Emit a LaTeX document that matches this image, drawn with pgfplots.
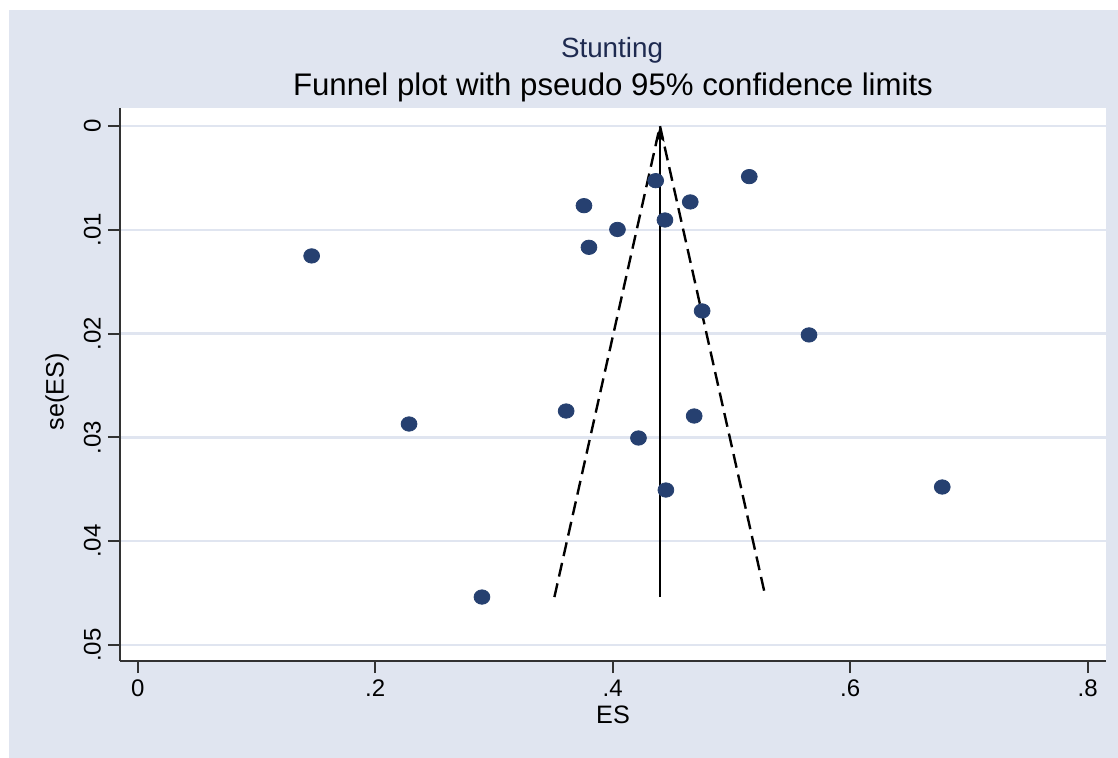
\documentclass[border=0pt]{standalone}
\usepackage{fontspec}
\setmainfont{Liberation Sans}
\usepackage{pgfplots}
\pgfplotsset{compat=1.18}
\usetikzlibrary{arrows.meta}

\definecolor{bgcol}{RGB}{224,229,240}
\definecolor{gridcol}{RGB}{224,229,240}
\definecolor{dotcol}{RGB}{38,64,112}
\definecolor{axcol}{RGB}{50,50,50}
\definecolor{subcol}{RGB}{30,42,80}

\begin{document}
\begin{tikzpicture}[x=1pt,y=1pt]
% background (1px = 0.5pt)
\fill[bgcol] (-55.5,-49) rectangle (499.5,325.5);

\begin{axis}[
  at={(0,0)}, anchor=south west,
  scale only axis,
  width=493pt, height=276.5pt,
  xmin=-0.0149, xmax=0.8154,
  ymin=-0.00173, ymax=0.05154,
  y dir=reverse,
  axis lines*=left,
  axis line style={axcol, line width=1pt},
  axis background/.style={fill=white},
  xtick={0,0.2,0.4,0.6,0.8},
  xticklabels={0,.2,.4,.6,.8},
  ytick={0,0.01,0.02,0.03,0.04,0.05},
  yticklabels={0,.01,.02,.03,.04,.05},
  scaled y ticks=false,
  scaled x ticks=false,
  tick align=outside,
  major tick length=6pt,
  tick style={axcol, line width=1pt},
  ymajorgrids,
  grid style={gridcol, line width=1.2pt},
  tick label style={font=\fontsize{12}{14}\selectfont},
  yticklabel style={rotate=90, anchor=south},
  clip=false,
]
\addplot[only marks, mark=*, mark size=3.6pt, mark options={draw=dotcol, fill=dotcol, xscale=1.1}]
coordinates {
  (0.1465,0.01252) (0.2285,0.02871) (0.2899,0.04538) (0.3608,0.02746)
  (0.3758,0.00768) (0.3800,0.01169) (0.4040,0.00997) (0.4217,0.03006)
  (0.4362,0.00527) (0.4440,0.00906) (0.4448,0.03507) (0.4653,0.00732)
  (0.4686,0.02794) (0.4753,0.01782) (0.5150,0.00488) (0.5653,0.02013)
  (0.6775,0.03478)
};
% pseudo 95% limits
\addplot[black, line width=1.2pt, dash pattern=on 7pt off 3.5pt]
coordinates {(0.3509,0.04538) (0.4398,0) (0.5287,0.04538)};
% pooled estimate
\addplot[black, line width=1.2pt, -{Stealth[length=8pt,width=4.5pt,inset=2pt]}]
coordinates {(0.4398,0.04538) (0.4398,0)};
\end{axis}

\node[font=\fontsize{13.9}{16}\selectfont, text=subcol] at (246,305.5) {Stunting};
\node[font=\fontsize{15.6}{18}\selectfont] at (246.5,287) {Funnel plot with pseudo 95\% confidence limits};
\node[font=\fontsize{12.6}{15}\selectfont, rotate=90] at (-31.5,134.5) {se(ES)};
\node[font=\fontsize{12.6}{15}\selectfont] at (246.5,-27) {ES};

\pgfresetboundingbox
\useasboundingbox (-60,-48.5) rectangle (499,330.5);
\end{tikzpicture}
\end{document}
